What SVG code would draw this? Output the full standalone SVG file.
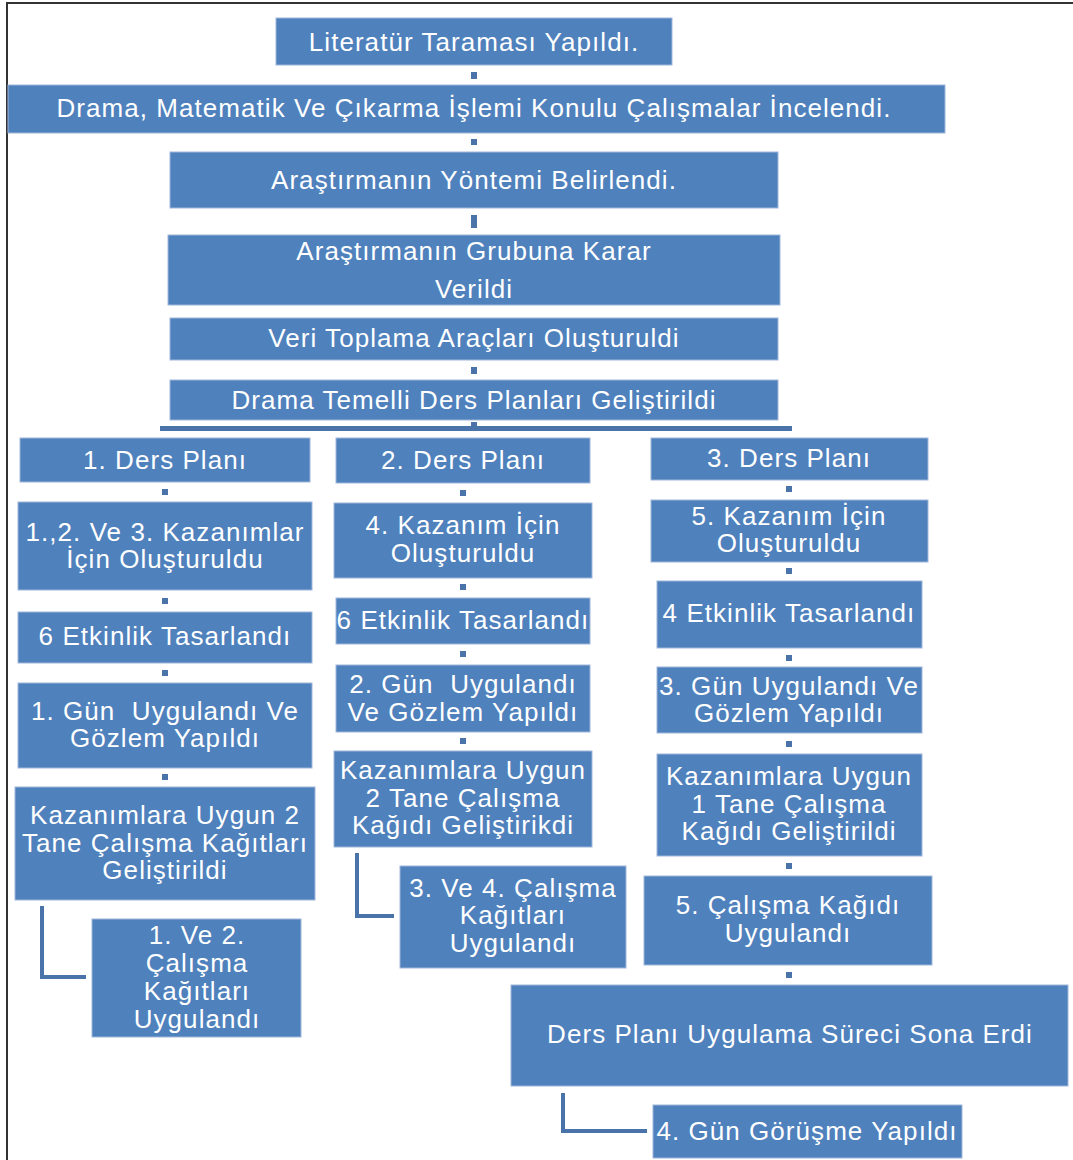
<svg xmlns="http://www.w3.org/2000/svg" width="1073" height="1160" viewBox="0 0 1073 1160">
<style>
.box{fill:#4F81BD;stroke:#9FB7DA;stroke-width:1}
.t{font-family:"Liberation Sans",Arial,sans-serif;font-size:26px;fill:#FFFFFF;text-anchor:middle;letter-spacing:1.05px;white-space:pre}
.dot{fill:#4A73AA}
.elbow{fill:none;stroke:#4A73AA;stroke-width:4}
</style>
<rect x="0" y="0" width="1073" height="1160" fill="#FFFFFF"/>
<path d="M7 1160 V3 H1073" fill="none" stroke="#333333" stroke-width="2"/>
<g id="connectors">
<rect class="dot" x="471" y="72" width="6" height="7"/>
<rect class="dot" x="471" y="139" width="6" height="6"/>
<rect class="dot" x="471" y="215" width="6" height="13"/>
<rect class="dot" x="471" y="367" width="6" height="7"/>
<rect class="dot" x="471" y="422" width="6" height="6"/>
<rect class="dot" x="160" y="426" width="632" height="5"/>
<rect class="dot" x="162" y="489" width="6" height="6"/>
<rect class="dot" x="162" y="598" width="6" height="6"/>
<rect class="dot" x="162" y="670" width="6" height="6"/>
<rect class="dot" x="162" y="774" width="6" height="6"/>
<rect class="dot" x="460" y="490" width="6" height="6"/>
<rect class="dot" x="460" y="584" width="6" height="6"/>
<rect class="dot" x="460" y="651" width="6" height="6"/>
<rect class="dot" x="460" y="738" width="6" height="6"/>
<rect class="dot" x="786" y="486" width="6" height="6"/>
<rect class="dot" x="786" y="568" width="6" height="6"/>
<rect class="dot" x="786" y="655" width="6" height="6"/>
<rect class="dot" x="786" y="741" width="6" height="6"/>
<rect class="dot" x="786" y="863" width="6" height="6"/>
<rect class="dot" x="786" y="972" width="6" height="6"/>
<path class="elbow" d="M42 906 V977 H86"/>
<path class="elbow" d="M357 853 V916 H394"/>
<path class="elbow" d="M563 1093 V1131 H647"/>
</g>
<g id="n1"><rect class="box" x="276" y="18" width="396" height="47"/><text class="t" x="474" y="51">Literatür Taraması Yapıldı.</text></g>
<g id="n2"><rect class="box" x="8" y="85" width="937" height="48"/><text class="t" x="474" y="117">Drama, Matematik Ve Çıkarma İşlemi Konulu Çalışmalar İncelendi.</text></g>
<g id="n3"><rect class="box" x="170" y="152" width="608" height="56"/><text class="t" x="474" y="189">Araştırmanın Yöntemi Belirlendi.</text></g>
<g id="n4"><rect class="box" x="168" y="235" width="612" height="70"/><text class="t" x="474" y="260">Araştırmanın Grubuna Karar</text><text class="t" x="474" y="298">Verildi</text></g>
<g id="n5"><rect class="box" x="170" y="318" width="608" height="42"/><text class="t" x="474" y="347">Veri Toplama Araçları Oluşturuldi</text></g>
<g id="n6"><rect class="box" x="170" y="380" width="608" height="40"/><text class="t" x="474" y="409">Drama Temelli Ders Planları Geliştirildi</text></g>

<g id="c1a"><rect class="box" x="20" y="438" width="290" height="44"/><text class="t" x="165" y="469">1. Ders Planı</text></g>
<g id="c1b"><rect class="box" x="18" y="502" width="294" height="88"/><text class="t" x="165" y="541">1.,2. Ve 3. Kazanımlar</text><text class="t" x="165" y="568">İçin Oluşturuldu</text></g>
<g id="c1c"><rect class="box" x="18" y="612" width="294" height="51"/><text class="t" x="165" y="645">6 Etkinlik Tasarlandı</text></g>
<g id="c1d"><rect class="box" x="18" y="683" width="294" height="85"/><text class="t" x="165" y="720">1. Gün  Uygulandı Ve</text><text class="t" x="165" y="747">Gözlem Yapıldı</text></g>
<g id="c1e"><rect class="box" x="15" y="787" width="300" height="113"/><text class="t" x="165" y="824">Kazanımlara Uygun 2</text><text class="t" x="165" y="852">Tane Çalışma Kağıtları</text><text class="t" x="165" y="879">Geliştirildi</text></g>
<g id="c1f"><rect class="box" x="92" y="919" width="209" height="118"/><text class="t" x="197" y="944">1. Ve 2.</text><text class="t" x="197" y="972">Çalışma</text><text class="t" x="197" y="1000">Kağıtları</text><text class="t" x="197" y="1028">Uygulandı</text></g>

<g id="c2a"><rect class="box" x="336" y="438" width="254" height="45"/><text class="t" x="463" y="469">2. Ders Planı</text></g>
<g id="c2b"><rect class="box" x="334" y="503" width="258" height="75"/><text class="t" x="463" y="534">4. Kazanım İçin</text><text class="t" x="463" y="562">Oluşturuldu</text></g>
<g id="c2c"><rect class="box" x="336" y="598" width="254" height="46"/><text class="t" x="463" y="629">6 Etkinlik Tasarlandı</text></g>
<g id="c2d"><rect class="box" x="336" y="665" width="254" height="67"/><text class="t" x="463" y="693">2. Gün  Uygulandı</text><text class="t" x="463" y="721">Ve Gözlem Yapıldı</text></g>
<g id="c2e"><rect class="box" x="334" y="751" width="258" height="96"/><text class="t" x="463" y="779">Kazanımlara Uygun</text><text class="t" x="463" y="807">2 Tane Çalışma</text><text class="t" x="463" y="834">Kağıdı Geliştirikdi</text></g>
<g id="c2f"><rect class="box" x="400" y="866" width="226" height="102"/><text class="t" x="513" y="897">3. Ve 4. Çalışma</text><text class="t" x="513" y="924">Kağıtları</text><text class="t" x="513" y="952">Uygulandı</text></g>

<g id="c3a"><rect class="box" x="651" y="438" width="277" height="42"/><text class="t" x="789" y="467">3. Ders Planı</text></g>
<g id="c3b"><rect class="box" x="651" y="500" width="277" height="62"/><text class="t" x="789" y="525">5. Kazanım İçin</text><text class="t" x="789" y="552">Oluşturuldu</text></g>
<g id="c3c"><rect class="box" x="657" y="581" width="265" height="67"/><text class="t" x="789" y="622">4 Etkinlik Tasarlandı</text></g>
<g id="c3d"><rect class="box" x="657" y="667" width="265" height="66"/><text class="t" x="789" y="695">3. Gün Uygulandı Ve</text><text class="t" x="789" y="722">Gözlem Yapıldı</text></g>
<g id="c3e"><rect class="box" x="657" y="754" width="265" height="102"/><text class="t" x="789" y="785">Kazanımlara Uygun</text><text class="t" x="789" y="813">1 Tane Çalışma</text><text class="t" x="789" y="840">Kağıdı Geliştirildi</text></g>
<g id="c3f"><rect class="box" x="644" y="876" width="288" height="89"/><text class="t" x="788" y="914">5. Çalışma Kağıdı</text><text class="t" x="788" y="942">Uygulandı</text></g>
<g id="c3g"><rect class="box" x="511" y="985" width="557" height="101"/><text class="t" x="790" y="1043">Ders Planı Uygulama Süreci Sona Erdi</text></g>
<g id="c3h"><rect class="box" x="653" y="1105" width="309" height="53"/><text class="t" x="807" y="1140">4. Gün Görüşme Yapıldı</text></g>
</svg>
